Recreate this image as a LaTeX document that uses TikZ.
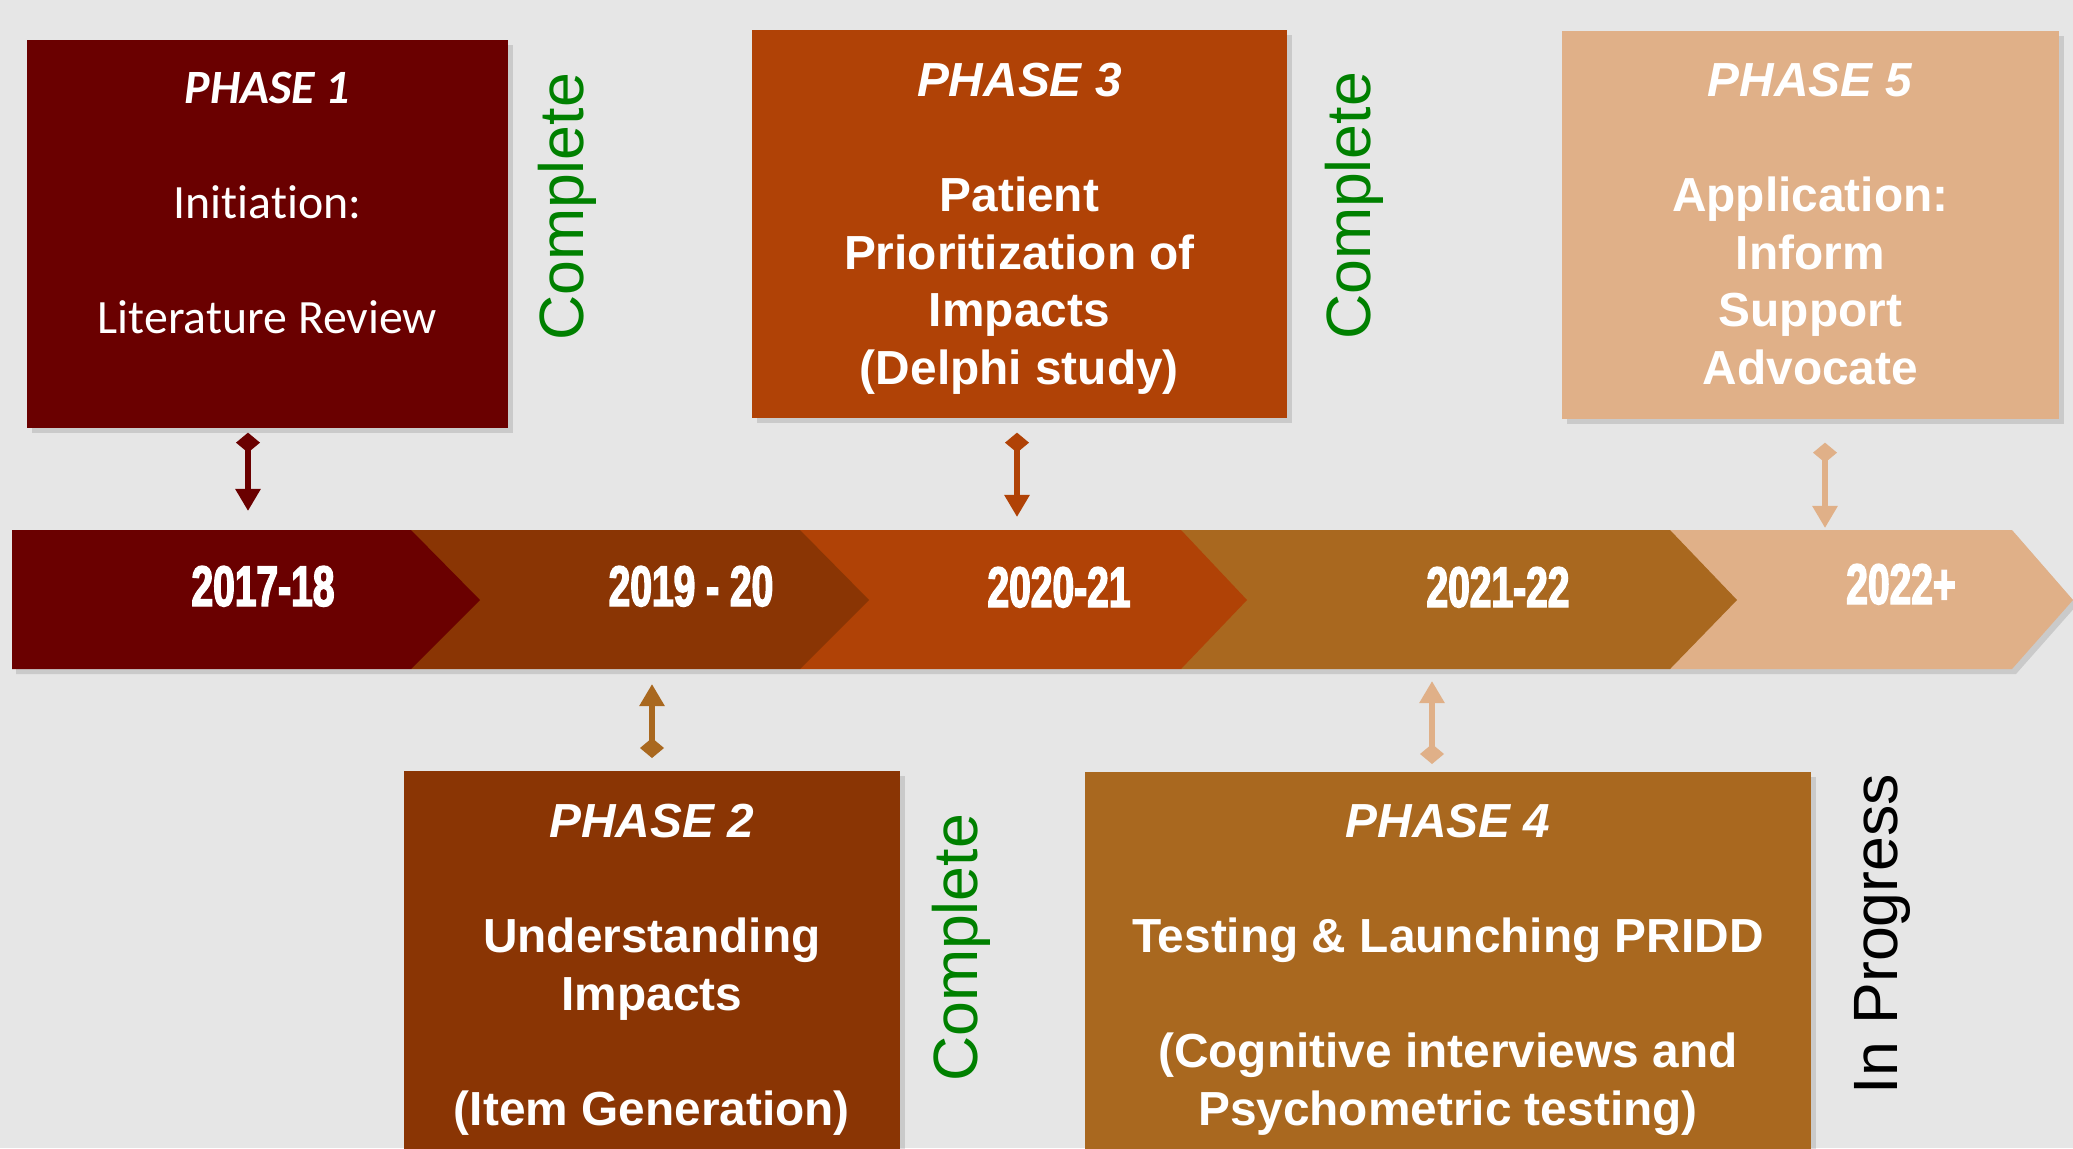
\documentclass[tikz,border=0pt]{standalone}
\usepackage{fontspec}
\setmainfont{Liberation Sans}
\newfontfamily\calibri[Ligatures=NoCommon]{Carlito}
\newfontfamily\yearfont[FakeStretch=0.68,FakeBold=2.5]{Liberation Sans Bold}
\usepackage{tikz}
\usetikzlibrary{arrows.meta,shadows}

\definecolor{bg}{RGB}{230,230,230}
\definecolor{ph1}{RGB}{106,0,0}
\definecolor{ph2}{RGB}{138,53,4}
\definecolor{ph3}{RGB}{176,66,6}
\definecolor{ph4}{RGB}{169,104,31}
\definecolor{ph5}{RGB}{224,176,136}
\definecolor{done}{RGB}{0,128,0}

\newcommand{\boxfont}{\fontsize{13.6}{16.36}\selectfont}

\tikzset{
  phasebox/.style={rectangle, inner sep=0pt, anchor=north west,
    drop shadow={shadow xshift=0.05cm, shadow yshift=-0.05cm, opacity=0.12, fill=black}},
  phasetext/.style={anchor=north, align=center, text=white, inner sep=0pt,
    font=\boxfont\bfseries},
  status/.style={rotate=90, anchor=base, inner sep=0pt,
    font=\fontsize{17.8}{20}\selectfont},
  year/.style={anchor=base, text=white, inner sep=0pt,
    font=\yearfont\fontsize{16.3}{18}\selectfont},
  link/.style={line width=1.9pt,
    {Diamond[length=0.2cm,width=0.24cm]}-{Triangle[length=0.22cm,width=0.24cm]}}
}

\begin{document}
\begin{tikzpicture}[x=0.01cm, y=-0.01cm]
      \useasboundingbox (0,0) rectangle (2073,1148);
      \fill[bg] (0,0) rectangle (2073,1148);

      \fill[black, opacity=0.12, xshift=0.04cm, yshift=-0.05cm]
        (12,530) -- (2012,530) -- (2073,600) -- (2012,669) -- (12,669) -- cycle;
      \fill[ph5] (1670,530) -- (2012,530) -- (2073,600) -- (2012,669) -- (1670,669) -- cycle;
      \fill[ph4] (1181,530) -- (1670,530) -- (1737,600) -- (1670,669) -- (1181,669) -- cycle;
      \fill[ph3] (800,530) -- (1181,530) -- (1247,600) -- (1181,669) -- (800,669) -- cycle;
      \fill[ph2] (411,530) -- (800,530) -- (869,600) -- (800,669) -- (411,669) -- cycle;
      \fill[ph1] (12,530) -- (411,530) -- (480,600) -- (411,669) -- (12,669) -- cycle;

      \node[year] (y1) at (263,606) {2017-18};
      \node[year] (y2) at (691,606) {2019 - 20};
      \node[year] (y3) at (1059,607) {2020-21};
      \node[year] (y4) at (1498,607) {2021-22};
      \node[year] (y5) at (1901,604) {2022+};

      \node[phasebox, fill=ph1, minimum width=4.81cm, minimum height=3.88cm] (p1) at (26,39) {};
      \node[phasebox, fill=ph3, minimum width=5.35cm, minimum height=3.88cm] (p3) at (751,29) {};
      \node[phasebox, fill=ph5, minimum width=4.97cm, minimum height=3.88cm] (p5) at (1561,30) {};
      \node[phasebox, fill=ph2, minimum width=4.96cm, minimum height=3.95cm] (p2) at (403,770) {};
      \node[phasebox, fill=ph4, minimum width=7.26cm, minimum height=3.95cm] (p4) at (1084,771) {};

      \node[phasetext, font=\calibri\boxfont] (t1) at ([yshift=-0.236cm]p1.north)
        {\strut\textbf{\textit{PHASE 1}}\\ \\Initiation:\\ \\Literature Review};
      \node[phasetext] (t3) at ([yshift=-0.266cm]p3.north)
        {\strut\textit{PHASE 3}\\ \\Patient\\Prioritization of\\Impacts\\(Delphi study)};
      \node[phasetext] (t5) at ([yshift=-0.256cm]p5.north)
        {\strut\textit{PHASE 5}\\ \\Application:\\Inform\\Support\\Advocate};
      \node[phasetext] (t2) at ([yshift=-0.266cm]p2.north)
        {\strut\textit{PHASE 2}\\ \\Understanding\\Impacts\\ \\(Item Generation)};
      \node[phasetext] (t4) at ([yshift=-0.256cm]p4.north)
        {\strut\textit{PHASE 4}\\ \\Testing \& Launching PRIDD\\ \\(Cognitive interviews and\\Psychometric testing)};

      \node[status, text=done] (c1) at (583,207) {Complete};
      \node[status, text=done] (c3) at (1370,206) {Complete};
      \node[status, text=done] (c2) at (977,948) {Complete};
      \node[status, text=black] (c4) at (1897,934) {In Progress};

      \coordinate (k1) at (248,511);
      \coordinate (k3) at (1017,517);
      \coordinate (k5) at (1825,528);
      \coordinate (k2) at (652,684);
      \coordinate (k4) at (1432,681);
      \draw[link, ph1] ([yshift=-0.04cm]p1.south -| k1) -- (k1);
      \draw[link, ph3] ([yshift=-0.14cm]p3.south -| k3) -- (k3);
      \draw[link, ph5] ([yshift=-0.23cm]p5.south -| k5) -- (k5);
      \draw[link, ph4] ([yshift=0.12cm]p2.north -| k2) -- (k2);
      \draw[link, ph5] ([yshift=0.07cm]p4.north -| k4) -- (k4);
    \end{tikzpicture}
\end{document}
